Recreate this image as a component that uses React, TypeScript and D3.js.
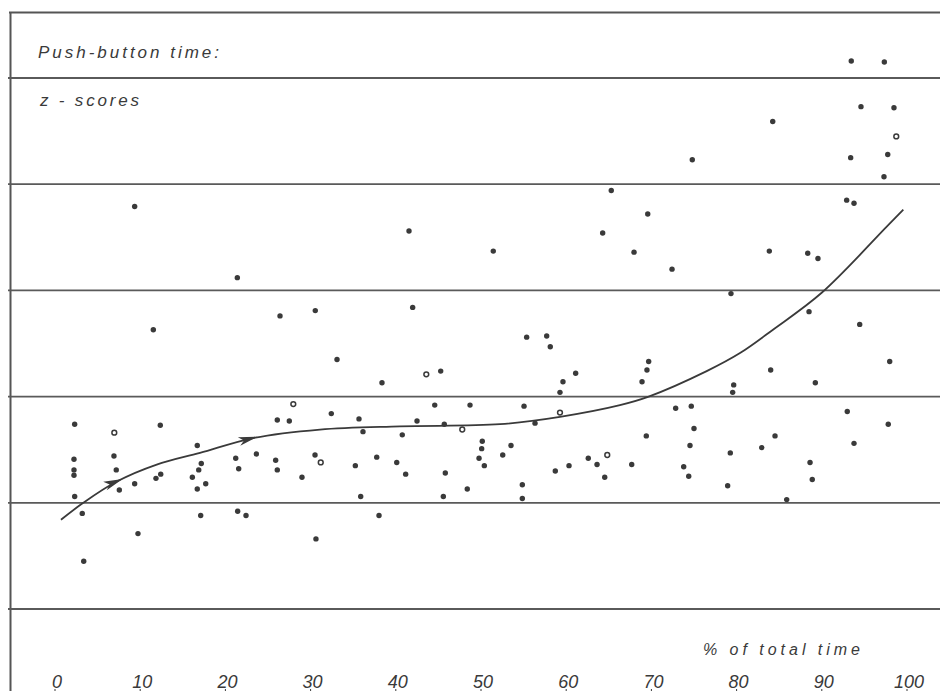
import React from "react";
import * as d3 from "d3";

// ---- data (x = % of total time, y = z-score of push-button time) ----
const xTicks = [0, 10, 20, 30, 40, 50, 60, 70, 80, 90, 100];
const gridZ = [3, 2, 1, 0, -1, -2];

const dotPct = [
  2.31, 12.36, 2.23, 2.23, 2.23, 2.31, 3.2, 3.37, 6.92, 7.19, 7.55, 9.35, 9.74, 11.85, 12.41,
  16.7, 17.17, 16.87, 16.12, 16.7, 17.69, 17.1, 21.21, 21.56, 21.44, 22.42, 23.63, 26.09, 27.5,
  25.9, 26.09, 28.99, 30.52, 30.63, 9.35, 21.4, 11.54, 26.41, 30.55, 38.03, 41.55, 51.44, 64.28,
  41.98, 33.1, 38.38, 45.27, 55.36, 57.71, 58.13, 61.11, 59.62, 59.27, 44.57, 48.71, 55.05,
  32.43, 35.68, 42.49, 45.69, 56.34, 36.15, 40.76, 50.15, 50.08, 49.77, 50.39, 53.52, 52.55,
  35.25, 37.76, 40.11, 41.16, 45.81, 35.88, 45.58, 48.39, 54.85, 54.85, 62.59, 63.62, 58.72,
  60.33, 64.52, 74.8, 93.39, 97.74, 97.3, 65.29, 69.57, 67.96, 72.42, 83.84, 88.35, 89.55,
  92.92, 93.78, 79.34, 88.5, 94.45, 97.97, 69.68, 69.48, 68.9, 84.0, 79.66, 79.54, 89.24,
  72.85, 74.68, 92.99, 97.8, 75.0, 69.4, 84.51, 74.53, 93.78, 79.26, 82.95, 67.69, 73.79,
  88.62, 74.38, 78.95, 88.88, 85.88, 93.46, 97.34, 94.6, 98.47, 84.24,
];
const dotZ = [
  -0.26, -0.27, -0.59, -0.69, -0.74, -0.94, -1.1, -1.55, -0.56, -0.69, -0.88, -0.82, -1.29, -0.77,
  -0.73, -0.46, -0.63, -0.69, -0.76, -0.87, -0.82, -1.12, -0.58, -0.68, -1.08, -1.12, -0.54, -0.22,
  -0.23, -0.6, -0.69, -0.76, -0.55, -1.34, 1.79, 1.12, 0.63, 0.76, 0.81, -1.12, 1.56, 1.37, 1.54,
  0.84, 0.35, 0.13, 0.24, 0.56, 0.57, 0.47, 0.22, 0.14, 0.04, -0.08, -0.08, -0.09,
  -0.16, -0.21, -0.23, -0.26, -0.25, -0.33, -0.36, -0.42, -0.49, -0.58, -0.65, -0.46, -0.55,
  -0.65, -0.57, -0.62, -0.73, -0.72, -0.94, -0.94, -0.87, -0.83, -0.96, -0.58, -0.64, -0.7,
  -0.65, -0.76, 2.23, 2.25, 2.28, 2.07, 1.94, 1.72, 1.36, 1.2, 1.37, 1.35, 1.3,
  1.85, 1.82, 0.97, 0.8, 0.68, 0.33, 0.33, 0.25, 0.14, 0.25, 0.11, 0.04, 0.13,
  -0.11, -0.09, -0.14, -0.26, -0.3, -0.37, -0.37, -0.46, -0.44, -0.53, -0.48, -0.64, -0.66,
  -0.62, -0.75, -0.84, -0.78, -0.97, 3.16, 3.15, 2.73, 2.72, 2.59,
];

const openPct = [6.96, 27.97, 43.58, 59.27, 47.8, 64.82, 98.74, 31.19];
const openZ = [-0.34, -0.07, 0.21, -0.15, -0.31, -0.55, 2.45, -0.62];

const curvePct = [0.7, 3.32, 7.24, 11.94, 17.02, 23.27, 31.1, 40.49, 52.23, 59.27, 66.31, 69.68, 76.49, 80.4, 84.27, 90.02, 97.62, 99.57];
const curveZ = [-1.16, -1.0, -0.8, -0.64, -0.53, -0.39, -0.31, -0.28, -0.26, -0.19, -0.08, 0.0, 0.24, 0.41, 0.63, 0.98, 1.6, 1.76];

const arrowPct = [7.4, 23.2];

const W = 940;
const H = 691;
const INK = "#3a3a3a";
const FONT = "'Liberation Sans', Arial, sans-serif";

export default function App() {
  const x = d3.scaleLinear().domain([0, 100]).range([55, 907]);
  const y = d3.scaleLinear().domain([-2, 3]).range([609, 78]);

  const curveData = curvePct.map((p, i) => [p, curveZ[i]] as [number, number]);
  const line = d3
    .line<[number, number]>()
    .x((d) => x(d[0]))
    .y((d) => y(d[1]))
    .curve(d3.curveCatmullRom.alpha(0.5));

  const arrows = arrowPct.map((p) => {
    const i = Math.max(0, d3.bisectLeft(curvePct, p) - 1);
    const a = curveData[i];
    const b = curveData[i + 1];
    const t = (p - a[0]) / (b[0] - a[0]);
    const zz = a[1] + t * (b[1] - a[1]);
    const px = x(p);
    const py = y(zz);
    const ang = (Math.atan2(y(b[1]) - y(a[1]), x(b[0]) - x(a[0])) * 180) / Math.PI;
    return { px, py, ang };
  });

  return (
    <svg
      width={W}
      height={H}
      style={{ position: "absolute", left: 0, top: 0, background: "#fff" }}
      fontFamily={FONT}
    >
      <rect width={W} height={H} fill="#fff" />
      {/* frame */}
      <line x1={9} x2={W} y1={12.5} y2={12.5} stroke="#555" strokeWidth={2.2} />
      <line x1={10.5} x2={10.5} y1={12} y2={H} stroke="#555" strokeWidth={2} />
      {/* horizontal grid lines */}
      {gridZ.map((g) => (
        <line key={g} x1={8} x2={W} y1={y(g)} y2={y(g)} stroke="#5a5a5a" strokeWidth={1.8} />
      ))}
      {/* title */}
      <text x={38} y={58} fontSize={17} fontStyle="italic" fill={INK} textLength={181} lengthAdjust="spacing">
        Push-button time:
      </text>
      <text x={40} y={106} fontSize={17} fontStyle="italic" fill={INK} textLength={99} lengthAdjust="spacing">
        z - scores
      </text>
      {/* fitted curve */}
      <path d={line(curveData) || ""} fill="none" stroke={INK} strokeWidth={1.8} />
      {arrows.map((a, i) => (
        <path
          key={i}
          d="M -14 -5 L 5 0 L -14 4 L -9 0 Z"
          transform={`translate(${a.px},${a.py}) rotate(${a.ang})`}
          fill={INK}
        />
      ))}
      {/* points */}
      {dotPct.map((p, i) => (
        <circle key={"d" + i} cx={x(p)} cy={y(dotZ[i])} r={2.7} fill={INK} />
      ))}
      {openPct.map((p, i) => (
        <circle key={"o" + i} cx={x(p)} cy={y(openZ[i])} r={2.4} fill="#fff" stroke={INK} strokeWidth={1.5} />
      ))}
      {/* x axis label + ticks */}
      <text x={703} y={655} fontSize={16} fontStyle="italic" fill={INK} textLength={157} lengthAdjust="spacing">
        % of total time
      </text>
      {xTicks.map((t) => (
        <g key={t}>
          <text x={x(t) + 2} y={688} fontSize={18} fontStyle="italic" fill={INK} textAnchor="middle">
            {t}
          </text>
          <line x1={x(t)} x2={x(t)} y1={689} y2={H} stroke={INK} strokeWidth={1} />
        </g>
      ))}
    </svg>
  );
}
